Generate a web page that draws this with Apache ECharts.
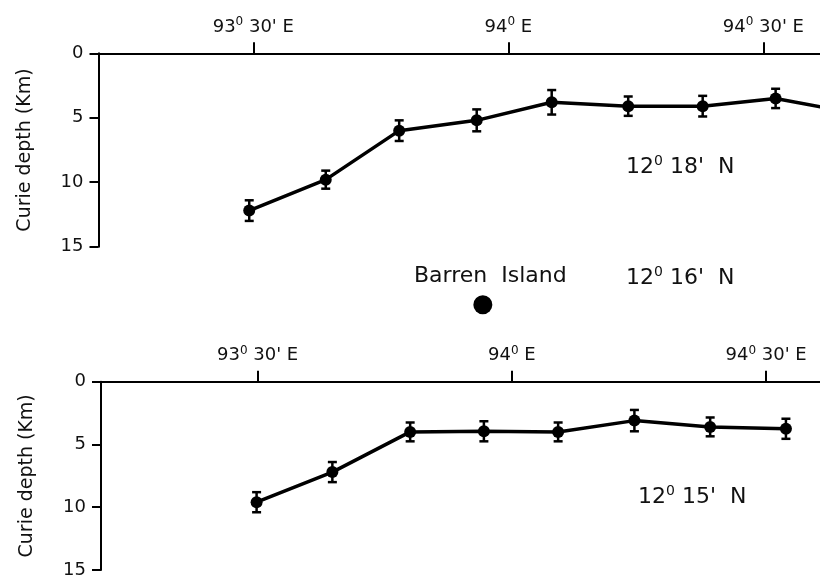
<!DOCTYPE html>
<html>
<head>
<meta charset="utf-8">
<style>
    html, body { margin: 0; padding: 0; background: #fff; }
    #chart { width: 820px; height: 579px; }
</style>
<script src="https://cdn.jsdelivr.net/npm/echarts@6/dist/echarts.min.js"></script>
</head>
<body>
<div id="chart"></div>
<script>
// profile at 12° 18' N (last point runs off the right edge)
const lonTop = [93.492, 93.642, 93.786, 93.938, 94.085, 94.235, 94.381, 94.524, 94.672];
const depthTop = [12.2, 9.8, 6.0, 5.2, 3.8, 4.1, 4.1, 3.5, 4.6];
const errTop = [0.8, 0.7, 0.8, 0.85, 0.95, 0.75, 0.8, 0.75];

// profile at 12° 15' N
const lonBot = [93.498, 93.647, 93.8, 93.945, 94.091, 94.241, 94.39, 94.539];
const depthBot = [9.6, 7.2, 4.0, 3.95, 4.0, 3.1, 3.6, 3.75];
const errBot = [0.8, 0.8, 0.75, 0.8, 0.75, 0.85, 0.75, 0.8];

const lonTicks = [93.5, 94, 94.5];

// Barren Island, drawn in the upper panel's frame (below its 15 km line)
const islandLon = [93.95];
const islandPos = [19.5];

const FONT = "DejaVu Sans";
const INK = "#111";

function richFor(size, supSize) {
    return {
        n: { fontSize: size, fontFamily: FONT, color: INK, lineHeight: size + 2, verticalAlign: "bottom" },
        s: { fontSize: supSize, fontFamily: FONT, color: INK, lineHeight: supSize, verticalAlign: "top" },
    };
}

function lonLabel(v) {
    let deg = Math.floor(v);
    let min = Math.round((v - deg) * 60);
    return "{n|" + deg + "}{s|0}{n| " + (min ? min + "' " : "") + "E}";
}

function latText(deg, min) {
    return "{n|" + deg + "}{s|0}{n| " + min + "'  N}";
}

function errData(lon, depth, err) {
    return err.map((e, i) => [lon[i], depth[i] - e, depth[i] + e]);
}

function errRender(params, api) {
    let x = api.value(0);
    let p1 = api.coord([x, api.value(1)]);
    let p2 = api.coord([x, api.value(2)]);
    let w = 4.5;
    let st = { stroke: "#000", lineWidth: 2.5 };
    return {
        type: "group",
        children: [
            { type: "line", shape: { x1: p1[0], y1: p1[1], x2: p2[0], y2: p2[1] }, style: st },
            { type: "line", shape: { x1: p1[0] - w, y1: p1[1], x2: p1[0] + w, y2: p1[1] }, style: st },
            { type: "line", shape: { x1: p2[0] - w, y1: p2[1], x2: p2[0] + w, y2: p2[1] }, style: st },
        ],
    };
}

function xAxisFor(idx, min, max) {
    return {
        type: "value",
        gridIndex: idx,
        position: "top",
        min: min,
        max: max,
        axisLine: { show: true, onZero: false, lineStyle: { color: "#000", width: 2 } },
        axisTick: { show: true, customValues: lonTicks, length: 11, lineStyle: { color: "#000", width: 2 } },
        axisLabel: {
            customValues: lonTicks,
            margin: 17,
            formatter: lonLabel,
            rich: richFor(18, 12),
        },
        splitLine: { show: false },
    };
}

function yAxisFor(idx) {
    return {
        type: "value",
        gridIndex: idx,
        inverse: true,
        min: 0,
        max: 15,
        interval: 5,
        name: "Curie depth (Km)",
        nameLocation: "middle",
        nameRotate: 90,
        nameGap: 64,
        nameTextStyle: { fontSize: 19, fontFamily: FONT, color: INK },
        axisLine: { show: true, onZero: false, lineStyle: { color: "#000", width: 2 } },
        axisTick: { show: true, length: 9, lineStyle: { color: "#000", width: 2 } },
        axisLabel: { margin: 15, fontSize: 18, fontFamily: FONT, color: INK },
        splitLine: { show: false },
    };
}

function lineSeries(idx, lon, depth) {
    return {
        type: "line",
        xAxisIndex: idx,
        yAxisIndex: idx,
        data: lon.map((x, i) => [x, depth[i]]),
        symbol: "circle",
        symbolSize: 12,
        showSymbol: true,
        itemStyle: { color: "#000" },
        lineStyle: { color: "#000", width: 3.5 },
        z: 3,
    };
}

function annot(left, top, text, size) {
    return {
        type: "text",
        left: left,
        top: top,
        style: {
            text: text,
            rich: richFor(size, 14),
            fontSize: size,
            fontFamily: FONT,
            fill: INK,
        },
    };
}

let chart = echarts.init(document.getElementById("chart"));
let option = {
    backgroundColor: "#fff",
    animation: false,
    grid: [
        { left: 98.5, top: 53.3, width: 721.5, height: 193.4 },
        { left: 101, top: 381.7, width: 719, height: 190 },
    ],
    xAxis: [xAxisFor(0, 93.1965, 94.611), xAxisFor(1, 93.192, 94.606)],
    yAxis: [yAxisFor(0), yAxisFor(1)],
    series: [
        lineSeries(0, lonTop, depthTop),
        {
            type: "custom",
            xAxisIndex: 0,
            yAxisIndex: 0,
            renderItem: errRender,
            encode: { x: 0, y: [1, 2] },
            data: errData(lonTop, depthTop, errTop),
            z: 2,
        },
        lineSeries(1, lonBot, depthBot),
        {
            type: "custom",
            xAxisIndex: 1,
            yAxisIndex: 1,
            renderItem: errRender,
            encode: { x: 0, y: [1, 2] },
            data: errData(lonBot, depthBot, errBot),
            z: 2,
        },
        {
            type: "scatter",
            xAxisIndex: 0,
            yAxisIndex: 0,
            clip: false,
            symbol: "circle",
            symbolSize: 19,
            itemStyle: { color: "#000", opacity: 1 },
            data: islandLon.map((x, i) => [x, islandPos[i]]),
        },
    ],
    graphic: [
        annot(626, 154, latText(12, 18), 22),
        annot(414, 265, "Barren  Island", 22),
        annot(626, 265, latText(12, 16), 22),
        annot(638, 484, latText(12, 15), 22),
    ],
};
chart.setOption(option);
</script>
</body>
</html>
